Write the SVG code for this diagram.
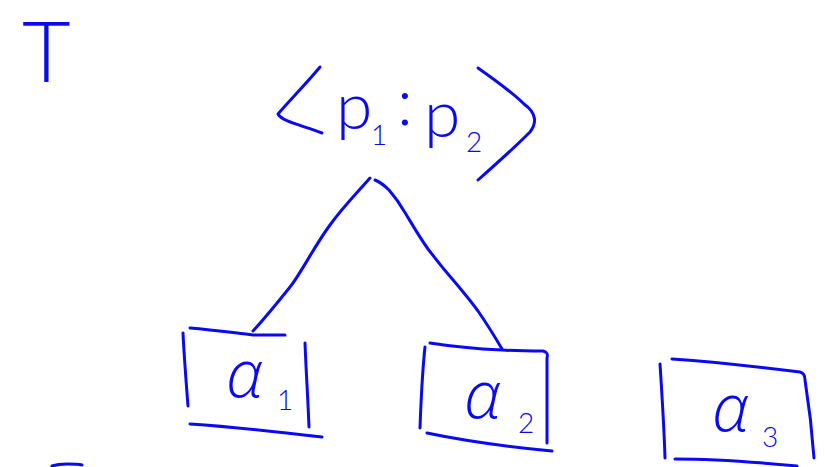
<svg xmlns="http://www.w3.org/2000/svg" width="825" height="467" viewBox="0 0 825 467">
  <defs>
    <style>
      .ink { fill: none; stroke: #0a0af0; stroke-width: 3; stroke-linecap: round; stroke-linejoin: round; }
      .hand { fill: #0a0af0; font-family: "Lato", "Open Sans", "Liberation Sans", sans-serif; font-weight: 300; }
      .greek { fill: #0a0af0; font-family: "Open Sans", "Lato", "Liberation Sans", sans-serif; font-weight: 300; font-style: italic; }
      .sym { font-size: 66px; }
      .sub { font-size: 28px; }
    </style>
  </defs>
  <rect width="825" height="467" fill="#ffffff"/>

  <!-- tree name -->
  <g id="tree-label">
    <text class="hand" x="22" y="82" font-size="84" textLength="80" lengthAdjust="spacing">T</text>
  </g>

  <!-- root node: the pair ⟨p1 : p2⟩ -->
  <g id="root">
    <path class="ink" d="M320,67 C305,85 290,100 278,114 C282,122 305,126 322,133"/>
    <path class="ink" d="M478,68 C495,80 512,92 524,104 C538,114 536,124 530,132 C512,150 495,165 478,180"/>
    <text class="hand sym" x="336" y="129">p</text>
    <text class="hand sub" x="371" y="145">1</text>
    <text class="hand sym" x="397" y="125" font-size="40">:</text>
    <text class="hand sym" x="424" y="137">p</text>
    <text class="hand sub" x="466" y="152">2</text>
  </g>

  <!-- edges from the root to its children -->
  <g id="connectors">
    <path class="ink" d="M370,178 C355,195 343,207 330,225 C315,245 300,275 290,287 C278,302 265,318 253,331"/>
    <path class="ink" d="M375,180 C382,183 386,187 389,190 C395,197 400,204 404,211 C412,224 420,238 428,249 C435,258 441,266 448,274 C460,288 470,300 478,311 C487,324 495,337 502,349"/>
  </g>

  <!-- leaf α1 -->
  <g id="alpha1">
    <path class="ink" d="M190,328 C215,330 235,333 253,335 C265,335 275,335 285,335"/>
    <path class="ink" d="M183,333 C184,355 186,380 188,406"/>
    <path class="ink" d="M305,343 C306,370 308,400 309,427"/>
    <path class="ink" d="M190,424 C235,427 280,432 322,437"/>
    <text class="greek sym" x="226" y="397">α</text>
    <text class="hand sub" x="277" y="410">1</text>
  </g>

  <!-- leaf α2 -->
  <g id="alpha2">
    <path class="ink" d="M430,343 C455,347 480,349 502,350 C520,351 535,351 543,351 C547,352 548,354 547,358 C547,390 547,420 547,443"/>
    <path class="ink" d="M425,347 C422,375 421,400 420,428"/>
    <path class="ink" d="M427,433 C470,442 510,447 552,451"/>
    <text class="greek sym" x="464" y="418" font-size="62">α</text>
    <text class="hand sub" x="518" y="433">2</text>
  </g>

  <!-- leaf α3 -->
  <g id="alpha3">
    <path class="ink" d="M672,359 C715,362 760,367 800,372 C804,373 805,376 805,380 C809,405 812,430 814,458"/>
    <path class="ink" d="M660,364 C662,395 664,425 665,458"/>
    <path class="ink" d="M675,459 C715,459 755,462 797,466"/>
    <text class="greek sym" x="712" y="431" font-size="62">α</text>
    <text class="hand sub" x="762" y="447">3</text>
  </g>

  <!-- stroke running off the lower edge -->
  <g id="edge-stroke">
    <path class="ink" d="M52,466 C58,464 63,464 67,464 C73,464 78,464 82,465"/>
  </g>
</svg>
